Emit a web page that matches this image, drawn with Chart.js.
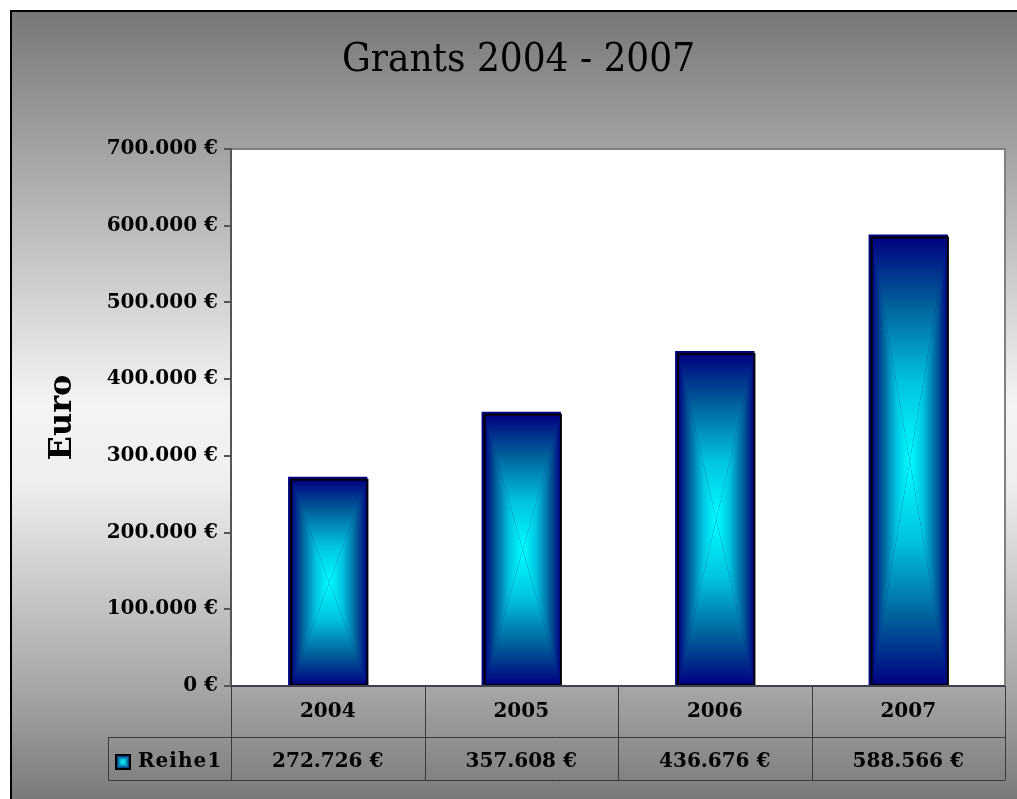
<!DOCTYPE html>
<html>
<head>
<meta charset="utf-8">
<script src="https://cdn.jsdelivr.net/npm/chart.js@4.4.1/dist/chart.umd.min.js"></script>
<style>
html, body { margin: 0; padding: 0; background: #fff; overflow: hidden; }
canvas { display: block; }
</style>
</head>
<body>
<canvas id="grantsChart" width="1017" height="799"></canvas>
<script>
const years = ["2004", "2005", "2006", "2007"];
const grants = [272726, 357608, 436676, 588566];
const seriesName = "Reihe1";
const chartTitle = "Grants 2004 - 2007";
const axisTitle = "Euro";
const yMax = 700000;
const yStep = 100000;

const serif = '"DejaVu Serif", "Liberation Serif", serif';
const cellFont = "bold 20px " + serif;

function euro(v) {
    return String(v).replace(/\B(?=(\d{3})+(?!\d))/g, ".") + " €";
}

// rectangular "from centre" gradient, like the old office charts
function fillBox(ctx, l, t, r, b) {
    const cx = (l + r) / 2, cy = (t + b) / 2;
    const stops = [[0, "#000080"], [0.3, "#00609a"], [0.65, "#00c4e0"], [1, "#00ffff"]];
    function tri(pts, x0, y0, x1, y1) {
        const g = ctx.createLinearGradient(x0, y0, x1, y1);
        stops.forEach(s => g.addColorStop(s[0], s[1]));
        ctx.beginPath();
        ctx.moveTo(pts[0][0], pts[0][1]);
        ctx.lineTo(pts[1][0], pts[1][1]);
        ctx.lineTo(pts[2][0], pts[2][1]);
        ctx.closePath();
        ctx.fillStyle = g;
        ctx.fill();
    }
    tri([[l, t], [r, t], [cx, cy]], 0, t, 0, cy);
    tri([[l, b], [r, b], [cx, cy]], 0, b, 0, cy);
    tri([[l, t], [l, b], [cx, cy]], l, 0, cx, 0);
    tri([[r, t], [r, b], [cx, cy]], r, 0, cx, 0);
}

const backdrop = {
    id: "backdrop",
    beforeDraw(chart) {
        const ctx = chart.ctx, w = chart.width, h = chart.height;
        const area = chart.chartArea;
        ctx.save();
        ctx.fillStyle = "#fff";
        ctx.fillRect(0, 0, w, h);
        const g = ctx.createLinearGradient(0, 10, 0, h);
        g.addColorStop(0, "#777777");
        g.addColorStop(0.15, "#9c9c9c");
        g.addColorStop(0.5, "#f4f4f4");
        g.addColorStop(0.6, "#eeeeee");
        g.addColorStop(0.86, "#a6a6a6");
        g.addColorStop(1, "#7a7a7a");
        ctx.fillStyle = g;
        ctx.fillRect(10, 10, w - 10, h - 10);
        ctx.strokeStyle = "#000";
        ctx.lineWidth = 2;
        ctx.beginPath();
        ctx.moveTo(11, h);
        ctx.lineTo(11, 11);
        ctx.lineTo(w, 11);
        ctx.stroke();
        // plot area
        ctx.fillStyle = "#fff";
        ctx.fillRect(area.left, area.top, area.right - area.left, area.bottom - area.top);
        ctx.strokeStyle = "#808080";
        ctx.lineWidth = 2;
        ctx.beginPath();
        ctx.moveTo(area.left, area.top);
        ctx.lineTo(area.right, area.top);
        ctx.lineTo(area.right, area.bottom);
        ctx.stroke();
        ctx.restore();
    }
};

const shadedBars = {
    id: "shadedBars",
    afterDatasetsDraw(chart) {
        const ctx = chart.ctx;
        const meta = chart.getDatasetMeta(0);
        ctx.save();
        meta.data.forEach(bar => {
            const p = bar.getProps(["x", "y", "base", "width"], true);
            const l = p.x - p.width / 2 + 3, r = p.x + p.width / 2;
            const t = p.y + 3, b = p.base;
            fillBox(ctx, l, t, r, b);
            ctx.strokeStyle = "#000";
            ctx.lineWidth = 2;
            ctx.strokeRect(l, t, r - l, b - t);
        });
        ctx.restore();
    }
};

const dataTable = {
    id: "dataTable",
    afterDraw(chart) {
        const ctx = chart.ctx;
        const area = chart.chartArea;
        const x = chart.scales.x;
        const colW = (area.right - area.left) / years.length;
        const top = area.bottom, mid = area.bottom + 51, bottom = area.bottom + 94;
        const legendLeft = 108;
        ctx.save();
        ctx.strokeStyle = "#3a3a3a";
        ctx.lineWidth = 1;
        ctx.beginPath();
        ctx.moveTo(legendLeft, mid + 0.5); ctx.lineTo(area.right, mid + 0.5);
        ctx.moveTo(legendLeft, bottom + 0.5); ctx.lineTo(area.right, bottom + 0.5);
        ctx.moveTo(legendLeft + 0.5, mid); ctx.lineTo(legendLeft + 0.5, bottom);
        for (let i = 0; i <= years.length; i++) {
            const cx = Math.round(area.left + i * colW) + 0.5;
            ctx.moveTo(cx, top); ctx.lineTo(cx, bottom);
        }
        ctx.stroke();
        // axis line
        ctx.strokeStyle = "#404050";
        ctx.lineWidth = 2;
        ctx.beginPath();
        ctx.moveTo(area.left, top); ctx.lineTo(area.right, top);
        ctx.stroke();

        // legend key
        fillBox(ctx, 116, 755, 130, 769);
        ctx.strokeStyle = "#000";
        ctx.lineWidth = 2;
        ctx.strokeRect(116, 755, 14, 14);

        ctx.fillStyle = "#000";
        ctx.font = cellFont;
        ctx.textAlign = "center";
        ctx.textBaseline = "middle";
        years.forEach((yr, i) => {
            const cx = x.getPixelForValue(i);
            ctx.fillText(yr, cx, top + 26);
            ctx.fillText(euro(grants[i]), cx, mid + 25);
        });
        ctx.textAlign = "left";
        ctx.letterSpacing = "1px";
        ctx.fillText(seriesName, 138, mid + 25);
        ctx.restore();
    }
};

new Chart(document.getElementById("grantsChart"), {
    type: "bar",
    data: {
        labels: years,
        datasets: [{
            label: seriesName,
            data: grants,
            backgroundColor: "#000080",
            borderWidth: 0,
            categoryPercentage: 1,
            barPercentage: 0.41
        }]
    },
    options: {
        responsive: false,
        animation: false,
        layout: { padding: { top: 10, left: 32, right: 12, bottom: 113 } },
        plugins: {
            legend: { display: false },
            tooltip: { enabled: false },
            title: {
                display: true,
                text: chartTitle,
                color: "#000",
                font: { family: '"DejaVu Serif Condensed", "Liberation Serif", serif', size: 40, weight: "normal", lineHeight: 1.2 },
                padding: { top: 27, bottom: 64 }
            }
        },
        scales: {
            x: { display: false },
            y: {
                min: 0,
                max: yMax,
                afterFit(axis) { axis.width = 199; },
                ticks: {
                    stepSize: yStep,
                    color: "#000",
                    padding: 6,
                    font: { family: serif, size: 20, weight: "bold" },
                    callback: v => euro(v)
                },
                grid: { drawOnChartArea: false, tickLength: 7, color: "#555", lineWidth: 2 },
                border: { display: true, color: "#555", width: 2 },
                title: {
                    display: true,
                    text: axisTitle,
                    color: "#000",
                    font: { family: serif, size: 32, weight: "bold" },
                    padding: { top: 11 }
                }
            }
        }
    },
    plugins: [backdrop, shadedBars, dataTable]
});
</script>
</body>
</html>
